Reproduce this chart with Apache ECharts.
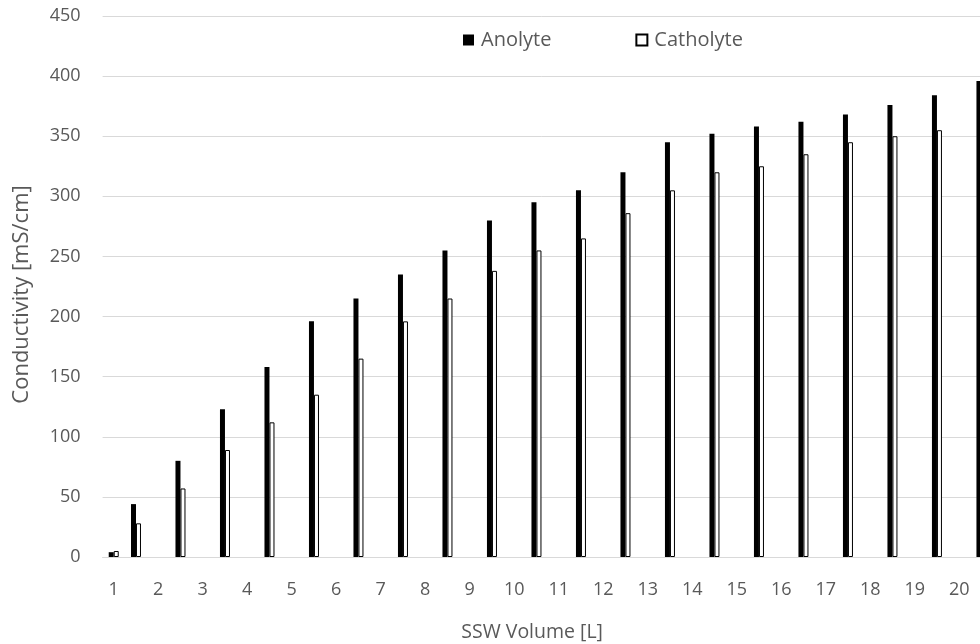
<!DOCTYPE html>
<html>
<head>
<meta charset="utf-8">
<script src="https://cdn.jsdelivr.net/npm/echarts@6/dist/echarts.min.js"></script>
<style>html,body{margin:0;padding:0;background:#fff;}#c{width:980px;height:644px;}</style>
</head>
<body>
<div id="c"></div>
<script>
const volumes = [1, 1.5, 2.5, 3.5, 4.5, 5.5, 6.5, 7.5, 8.5, 9.5, 10.5, 11.5, 12.5, 13.5, 14.5, 15.5, 16.5, 17.5, 18.5, 19.5, 20.5];
const anolyte = [4, 44, 80, 123, 158, 196, 215, 235, 255, 280, 295, 305, 320, 345, 352, 358, 362, 368, 376, 384, 396];
const catholyte = [5, 28, 57, 89, 112, 135, 165, 196, 215, 238, 255, 265, 286, 305, 320, 325, 335, 345, 350, 355, 360];
const seriesNames = ['Anolyte', 'Catholyte'];
const xTitle = 'SSW Volume [L]';
const yTitle = 'Conductivity [mS/cm]';

const font = '"Open Sans", Lato, sans-serif';
const chart = echarts.init(document.getElementById('c'), null, {renderer: 'canvas'});
chart.setOption({
  animation: false,
  backgroundColor: '#ffffff',
  legend: {
    data: seriesNames,
    left: 458,
    top: 25,
    itemWidth: 11,
    itemHeight: 11,
    itemGap: 84,
    icon: 'rect',
    textStyle: {fontFamily: font, fontSize: 20, color: '#595959', padding: [0, 0, 0, 2]}
  },
  grid: {left: 102.6, top: 16, width: 901.1, height: 541, containLabel: false, outerBoundsMode: 'none'},
  xAxis: {
    type: 'value',
    min: 0.75,
    max: 21,
    interval: 0.25,
    name: xTitle,
    nameLocation: 'middle',
    nameGap: 65,
    nameTextStyle: {fontFamily: font, fontSize: 19.5, color: '#595959', padding: [0, 42, 0, 0]},
    axisLine: {show: true, lineStyle: {color: '#d9d9d9', width: 1}},
    axisTick: {show: false},
    splitLine: {show: false},
    axisLabel: {
      fontFamily: font, fontSize: 18, color: '#595959', margin: 24,
      formatter: function (v) { return Math.abs(v - Math.round(v)) < 1e-6 ? String(Math.round(v)) : ''; }
    }
  },
  yAxis: {
    type: 'value',
    min: 0,
    max: 450,
    interval: 50,
    name: yTitle,
    nameLocation: 'middle',
    nameGap: 70,
    nameTextStyle: {fontFamily: font, fontSize: 22, color: '#595959', padding: [0, 16, 0, 0]},
    axisLine: {show: false},
    axisTick: {show: false},
    splitLine: {show: true, lineStyle: {color: '#d9d9d9', width: 1}},
    axisLabel: {fontFamily: font, fontSize: 18, color: '#595959', margin: 22}
  },
  series: [
    {
      name: seriesNames[0],
      type: 'bar',
      data: volumes.map((v, i) => [v, anolyte[i]]),
      barWidth: 5,
      barGap: '0%',
      itemStyle: {color: '#000000'}
    },
    {
      name: seriesNames[1],
      type: 'bar',
      data: volumes.map((v, i) => [v, catholyte[i]]),
      barWidth: 5,
      barGap: '0%',
      itemStyle: {color: '#ffffff', borderColor: '#000000', borderWidth: 1}
    }
  ]
});
</script>
</body>
</html>
